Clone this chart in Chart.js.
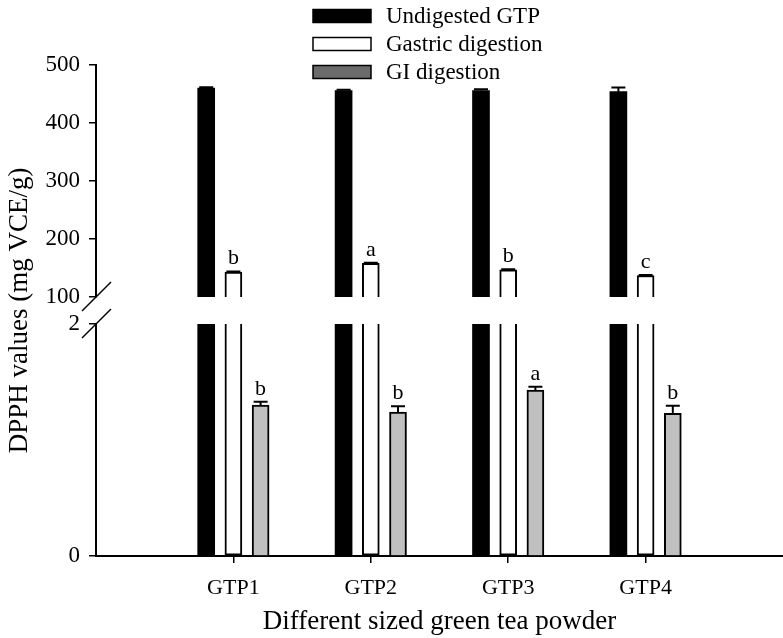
<!DOCTYPE html>
<html>
<head>
<meta charset="utf-8">
<title>DPPH values</title>
<script src="https://cdn.jsdelivr.net/npm/chart.js@4.4.0/dist/chart.umd.min.js"></script>
<style>
  html, body { margin: 0; padding: 0; background: #fff; }
  #wrap { width: 783px; height: 638px; }
</style>
</head>
<body>
<div id="wrap"><canvas id="dpphChart" width="783" height="638"></canvas></div>
<script>
const groups = ['GTP1', 'GTP2', 'GTP3', 'GTP4'];
const seriesNames = ['Undigested GTP', 'Gastric digestion', 'GI digestion'];

const undigested = [460, 456, 456, 454];
const undigestedErr = [1.5, 1.5, 2, 7];
const gastric = [143, 158, 147, 137];
const gastricErr = [1, 1, 1, 1];
const giDigestion = [1.30, 1.24, 1.43, 1.23];
const giErr = [0.03, 0.05, 0.03, 0.065];

const gastricLetters = ['b', 'a', 'b', 'c'];
const giLetters = ['b', 'b', 'a', 'b'];

const topTicks = [100, 200, 300, 400, 500];
const bottomTicks = [0, 2];

const FONT = "'Liberation Serif', 'Times New Roman', serif";
const BAR_W = 17;
const SHIFT = 0.198;   // distance between bars of a group, in category units
const GI_LEGEND = '#6b6b6b';

const topMax = topTicks[topTicks.length - 1];
const botMax = bottomTicks[bottomTicks.length - 1];

function pts(values, shift) {
  return values.map((v, i) => ({ x: i + 1 + shift, y: v }));
}
function clipped(values, shift) {
  return values.map((v, i) => ({ x: i + 1 + shift, y: Math.min(v, botMax) }));
}

const datasets = [
  { label: seriesNames[0], data: pts(undigested, -SHIFT), yAxisID: 'yTop',
    backgroundColor: '#000', borderColor: '#000', borderWidth: 0 },
  { label: seriesNames[1], data: pts(gastric, 0), yAxisID: 'yTop',
    backgroundColor: '#fff', borderColor: '#000', borderWidth: 2 },
  { label: seriesNames[0], data: clipped(undigested, -SHIFT), yAxisID: 'yBot',
    backgroundColor: '#000', borderColor: '#000', borderWidth: 0 },
  { label: seriesNames[1], data: clipped(gastric, 0), yAxisID: 'yBot',
    backgroundColor: '#fff', borderColor: '#000', borderWidth: 2, borderSkipped: 'top' },
  { label: seriesNames[2], data: pts(giDigestion, SHIFT), yAxisID: 'yBot',
    backgroundColor: '#c0c0c0', borderColor: '#000', borderWidth: 2 }
];

// upward error bars + letters: [datasetIndex, errors, letters]
const errorSpecs = [
  [0, undigestedErr, null],
  [1, gastricErr, gastricLetters],
  [4, giErr, giLetters]
];

const errorBars = {
  id: 'errorBars',
  afterDatasetsDraw(chart) {
    const ctx = chart.ctx;
    ctx.save();
    errorSpecs.forEach(([di, errs, letters]) => {
      const meta = chart.getDatasetMeta(di);
      const scale = chart.scales[meta.yAxisID];
      meta.data.forEach((bar, i) => {
        const raw = chart.data.datasets[di].data[i].y;
        const yTop = scale.getPixelForValue(raw + errs[i]);
        ctx.strokeStyle = '#000';
        ctx.lineWidth = 2;
        ctx.beginPath();
        ctx.moveTo(bar.x, bar.y);
        ctx.lineTo(bar.x, yTop);
        ctx.moveTo(bar.x - 7, yTop);
        ctx.lineTo(bar.x + 7, yTop);
        ctx.stroke();
        if (letters) {
          ctx.fillStyle = '#000';
          ctx.font = '22px ' + FONT;
          ctx.textAlign = 'center';
          ctx.textBaseline = 'alphabetic';
          ctx.fillText(letters[i], bar.x, yTop - 7);
        }
      });
    });
    ctx.restore();
  }
};

const axisBreak = {
  id: 'axisBreak',
  afterDraw(chart) {
    const ctx = chart.ctx;
    const up = chart.scales.yTop, lo = chart.scales.yBot;
    const x = up.right;
    ctx.save();
    ctx.strokeStyle = '#000';
    ctx.lineWidth = 1.5;
    [up.bottom, lo.top].forEach(y => {
      ctx.beginPath();
      ctx.moveTo(x - 14, y + 14);
      ctx.lineTo(x + 15, y - 15);
      ctx.stroke();
    });
    ctx.restore();
  }
};

const boxLegend = {
  id: 'boxLegend',
  afterDraw(chart) {
    const ctx = chart.ctx;
    const fills = ['#000', '#fff', GI_LEGEND];
    ctx.save();
    ctx.font = '23px ' + FONT;
    ctx.textAlign = 'left';
    ctx.textBaseline = 'middle';
    seriesNames.forEach((name, i) => {
      const y = 9.5 + i * 28;
      ctx.fillStyle = fills[i];
      ctx.fillRect(313, y, 58, 13);
      ctx.strokeStyle = '#000';
      ctx.lineWidth = 1.5;
      ctx.strokeRect(313, y, 58, 13);
      ctx.fillStyle = '#000';
      ctx.fillText(name, 386, y + 7);
    });
    ctx.restore();
  }
};

const tickFont = { family: FONT, size: 23 };
const yGrid = { drawOnChartArea: false, tickLength: 7, color: '#000', lineWidth: 1.5 };

new Chart(document.getElementById('dpphChart'), {
  type: 'bar',
  data: { datasets },
  options: {
    responsive: false,
    devicePixelRatio: 1,
    animation: false,
    barThickness: BAR_W,
    grouped: false,
    layout: { padding: { top: 65, left: 0, right: 0, bottom: 0 } },
    plugins: { legend: { display: false }, tooltip: { enabled: false } },
    scales: {
      x: {
        type: 'linear', min: 0, max: 5, offset: false,
        afterBuildTicks: s => { s.ticks = groups.map((g, i) => ({ value: i + 1 })); },
        ticks: { callback: v => groups[v - 1] || '', font: { family: FONT, size: 22 },
          color: '#000', padding: 12, maxRotation: 0, autoSkip: false },
        grid: { offset: false, drawOnChartArea: false, tickLength: 7, color: '#000', lineWidth: 1.5 },
        border: { color: '#000', width: 2 },
        title: { display: true, text: 'Different sized green tea powder',
          font: { family: FONT, size: 27 }, color: '#000', padding: { top: 0, bottom: 0 } },
        afterFit: s => { s.height = 82; }
      },
      // stacked scales are laid out bottom-up in definition order
      yBot: {
        type: 'linear', position: 'left', stack: 'broken', stackWeight: 232,
        min: bottomTicks[0], max: botMax,
        afterBuildTicks: s => { s.ticks = bottomTicks.map(v => ({ value: v })); },
        ticks: { font: tickFont, color: '#000', padding: 9 },
        grid: yGrid,
        border: { color: '#000', width: 2 },
        afterFit: s => { s.width = 96; }
      },
      yGap: {
        type: 'linear', position: 'left', stack: 'broken', stackWeight: 27,
        ticks: { display: false },
        grid: { display: false },
        border: { display: false },
        title: { display: true, text: 'DPPH values (mg VCE/g)',
          font: { family: FONT, size: 27 }, color: '#000', padding: { top: 4, bottom: 0 } },
        afterFit: s => { s.width = 96; }
      },
      yTop: {
        type: 'linear', position: 'left', stack: 'broken', stackWeight: 232,
        min: topTicks[0], max: topMax,
        afterBuildTicks: s => { s.ticks = topTicks.map(v => ({ value: v })); },
        ticks: { font: tickFont, color: '#000', padding: 9 },
        grid: yGrid,
        border: { color: '#000', width: 2 },
        afterFit: s => { s.width = 96; }
      }
    }
  },
  plugins: [errorBars, axisBreak, boxLegend]
});
</script>
</body>
</html>
